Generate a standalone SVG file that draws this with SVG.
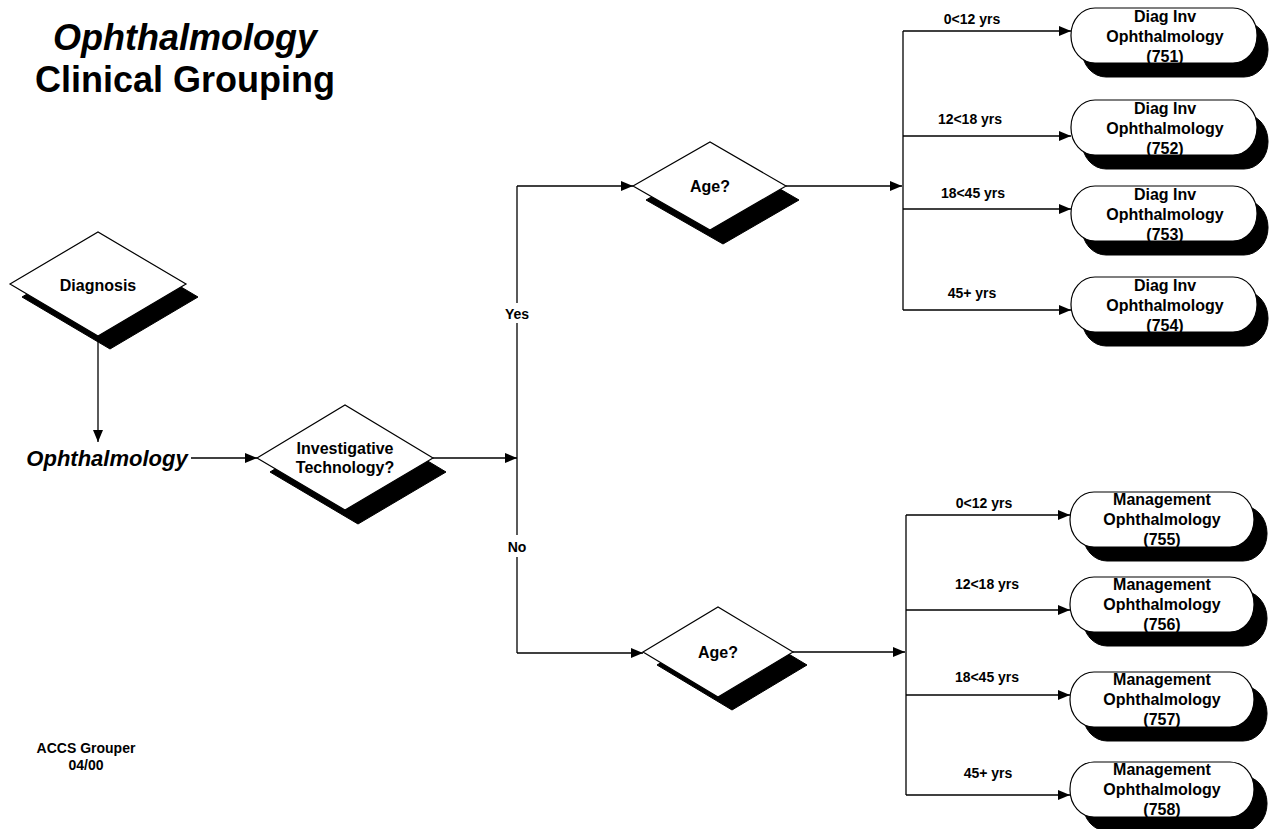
<svg xmlns="http://www.w3.org/2000/svg" width="1272" height="829" viewBox="0 0 1272 829">
<defs>
<marker id="arr" markerUnits="userSpaceOnUse" markerWidth="13" markerHeight="11" refX="12" refY="5" orient="auto">
<path d="M0,0 L12,5 L0,10 z" fill="#000"/>
</marker>
<style>
text{font-family:"Liberation Sans",Arial,sans-serif;font-weight:bold;fill:#000;text-anchor:middle}
.t{font-size:36px}
.n{font-size:16px}
.s{font-size:14px}
.dia{fill:#fff;stroke:#000;stroke-width:1.2}
.sh{fill:#000;stroke:#000;stroke-width:1}
.pill{fill:#fff;stroke:#000;stroke-width:1.2}
.c{fill:none;stroke:#000;stroke-width:1.3}
.ca{fill:none;stroke:#000;stroke-width:1.3;marker-end:url(#arr)}
</style>
</defs>
<rect width="1272" height="829" fill="#fff"/>

<g id="title">
<text class="t" x="185" y="50" font-style="italic">Ophthalmology</text>
<text class="t" x="185" y="92">Clinical Grouping</text>
</g>

<g id="connectors">
<line class="ca" x1="98" y1="336" x2="98" y2="442"/>
<line class="ca" x1="191" y1="458" x2="257" y2="458"/>
<line class="ca" x1="433" y1="458" x2="517" y2="458"/>
<polyline class="c" points="517,458 517,186"/>
<polyline class="c" points="517,458 517,653"/>
<line class="ca" x1="517" y1="186" x2="633" y2="186"/>
<line class="ca" x1="517" y1="653" x2="643" y2="653"/>
<line class="ca" x1="786" y1="186" x2="902" y2="186"/>
<line class="c" x1="903" y1="31" x2="903" y2="310"/>
<line class="ca" x1="903" y1="31" x2="1071" y2="31"/>
<line class="ca" x1="903" y1="136" x2="1071" y2="136"/>
<line class="ca" x1="903" y1="209" x2="1071" y2="209"/>
<line class="ca" x1="903" y1="310" x2="1071" y2="310"/>
<line class="ca" x1="793" y1="652" x2="905" y2="652"/>
<line class="c" x1="906" y1="515" x2="906" y2="795"/>
<line class="ca" x1="906" y1="515" x2="1070" y2="515"/>
<line class="ca" x1="906" y1="610" x2="1070" y2="610"/>
<line class="ca" x1="906" y1="695" x2="1070" y2="695"/>
<line class="ca" x1="906" y1="795" x2="1070" y2="795"/>
<rect x="500" y="303" width="34" height="20" fill="#fff"/>
<text class="s" x="517" y="319">Yes</text>
<rect x="503" y="535" width="28" height="22" fill="#fff"/>
<text class="s" x="517" y="552">No</text>
<text class="s" x="972" y="24">0&lt;12 yrs</text>
<text class="s" x="970" y="124">12&lt;18 yrs</text>
<text class="s" x="973" y="198">18&lt;45 yrs</text>
<text class="s" x="972" y="298">45+ yrs</text>
<text class="s" x="984" y="508">0&lt;12 yrs</text>
<text class="s" x="987" y="589">12&lt;18 yrs</text>
<text class="s" x="987" y="682">18&lt;45 yrs</text>
<text class="s" x="988" y="778">45+ yrs</text>
</g>

<g id="diagnosis">
<polygon class="sh" points="22,297 110,245 198,297 110,349"/>
<polygon class="dia" points="10,284 98,232 186,284 98,336"/>
<text class="n" x="98" y="291">Diagnosis</text>
</g>

<g id="ophthalmology">
<text x="107" y="466" font-size="22" font-style="italic">Ophthalmology</text>
</g>

<g id="investigative">
<polygon class="sh" points="270,472 358,419 446,472 358,524"/>
<polygon class="dia" points="257,458 345,405 433,458 345,510"/>
<text class="n" x="345" y="454">Investigative</text>
<text class="n" x="345" y="473">Technology?</text>
</g>

<g id="age-yes">
<polygon class="sh" points="646,200 723,156 799,200 723,244"/>
<polygon class="dia" points="633,186 710,142 786,186 710,230"/>
<text class="n" x="710" y="192">Age?</text>
</g>

<g id="age-no">
<polygon class="sh" points="657,665 732,620 807,665 732,710"/>
<polygon class="dia" points="643,652 718,607 793,652 718,697"/>
<text class="n" x="718" y="658">Age?</text>
</g>

<g id="n751">
<rect class="sh" x="1082" y="22" width="186" height="55" rx="24" ry="27"/>
<rect class="pill" x="1071" y="8" width="186" height="55" rx="24" ry="27"/>
<text class="n" x="1165" y="22">Diag Inv</text>
<text class="n" x="1165" y="42">Ophthalmology</text>
<text class="n" x="1165" y="62">(751)</text>
</g>
<g id="n752">
<rect class="sh" x="1082" y="114" width="186" height="55" rx="24" ry="27"/>
<rect class="pill" x="1071" y="100" width="186" height="55" rx="24" ry="27"/>
<text class="n" x="1165" y="114">Diag Inv</text>
<text class="n" x="1165" y="134">Ophthalmology</text>
<text class="n" x="1165" y="154">(752)</text>
</g>
<g id="n753">
<rect class="sh" x="1082" y="200" width="186" height="55" rx="24" ry="27"/>
<rect class="pill" x="1071" y="186" width="186" height="55" rx="24" ry="27"/>
<text class="n" x="1165" y="200">Diag Inv</text>
<text class="n" x="1165" y="220">Ophthalmology</text>
<text class="n" x="1165" y="240">(753)</text>
</g>
<g id="n754">
<rect class="sh" x="1082" y="291" width="186" height="55" rx="24" ry="27"/>
<rect class="pill" x="1071" y="277" width="186" height="55" rx="24" ry="27"/>
<text class="n" x="1165" y="291">Diag Inv</text>
<text class="n" x="1165" y="311">Ophthalmology</text>
<text class="n" x="1165" y="331">(754)</text>
</g>

<g id="n755">
<rect class="sh" x="1083" y="506" width="184" height="55" rx="24" ry="27"/>
<rect class="pill" x="1070" y="492" width="184" height="55" rx="24" ry="27"/>
<text class="n" x="1162" y="505">Management</text>
<text class="n" x="1162" y="525">Ophthalmology</text>
<text class="n" x="1162" y="545">(755)</text>
</g>
<g id="n756">
<rect class="sh" x="1083" y="591" width="184" height="55" rx="24" ry="27"/>
<rect class="pill" x="1070" y="577" width="184" height="55" rx="24" ry="27"/>
<text class="n" x="1162" y="590">Management</text>
<text class="n" x="1162" y="610">Ophthalmology</text>
<text class="n" x="1162" y="630">(756)</text>
</g>
<g id="n757">
<rect class="sh" x="1083" y="686" width="184" height="55" rx="24" ry="27"/>
<rect class="pill" x="1070" y="672" width="184" height="55" rx="24" ry="27"/>
<text class="n" x="1162" y="685">Management</text>
<text class="n" x="1162" y="705">Ophthalmology</text>
<text class="n" x="1162" y="725">(757)</text>
</g>
<g id="n758">
<rect class="sh" x="1083" y="776" width="184" height="55" rx="24" ry="27"/>
<rect class="pill" x="1070" y="762" width="184" height="55" rx="24" ry="27"/>
<text class="n" x="1162" y="775">Management</text>
<text class="n" x="1162" y="795">Ophthalmology</text>
<text class="n" x="1162" y="815">(758)</text>
</g>

<g id="footer">
<text class="s" x="86" y="753">ACCS Grouper</text>
<text class="s" x="86" y="770">04/00</text>
</g>
</svg>
